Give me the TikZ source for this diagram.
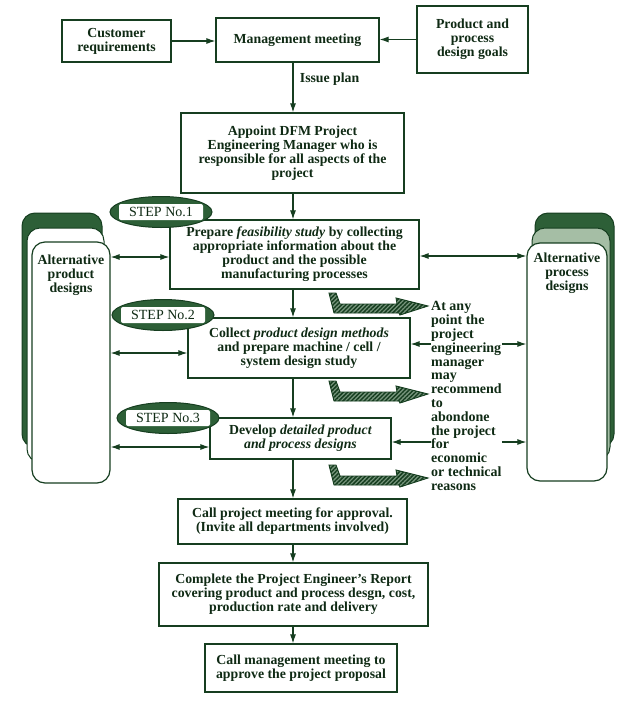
\documentclass[tikz,border=0pt]{standalone}
\usepackage{fontspec}
\setmainfont{Liberation Serif}
\usetikzlibrary{shapes.geometric,patterns,patterns.meta,arrows.meta}
\definecolor{ink}{RGB}{22,62,32}
\definecolor{txt}{RGB}{15,42,20}
\definecolor{dkg}{RGB}{45,95,55}
\definecolor{ltg}{RGB}{165,190,165}
\definecolor{hatchbg}{RGB}{120,150,125}
\begin{document}
\begin{tikzpicture}[x=1pt,y=-1pt,
  every node/.style={text=txt, font=\bfseries\fontsize{13.8}{14}\selectfont},
  box/.style={draw=ink, line width=1.2pt, align=center, inner sep=0pt},
  arr/.style={draw=ink, line width=1.1pt, -{Latex[length=9pt,width=6pt]}},
  darr/.style={draw=ink, line width=1.1pt, {Latex[length=9pt,width=6pt]}-{Latex[length=9pt,width=6pt]}},
  stepoval/.style={ellipse, draw=ink, fill=dkg, line width=1pt, minimum width=102pt, minimum height=31pt, inner sep=0pt},
  steplabel/.style={fill=white, rounded corners=2pt, minimum width=84pt, minimum height=16pt, inner sep=0pt, font=\fontsize{14}{14}\selectfont},
  layer/.style={draw=ink, line width=1pt, rounded corners=13pt},
  hatcharrow/.pic={
    \path[fill=hatchbg, postaction={pattern={Lines[angle=45,distance=3pt,line width=1.5pt]}, pattern color=ink}, draw=ink, line width=0.9pt]
      (0,0) -- (7,0) -- (11,11) -- (68,11) -- (67,5) -- (99,13) -- (71,22) -- (70,20) -- (5,20) -- cycle;
  }
]
\useasboundingbox (0,0) rectangle (635,710);

% side stacks
\draw[layer, fill=dkg] (22,213) rectangle (102,447);
\draw[layer, fill=white] (27,228) rectangle (104,462);
\node[layer, fill=white, line width=1.2pt, minimum width=78pt, minimum height=241pt] (alt1) at (71,362.5) {};
\node[align=center] (alt1t) at (71,275) {Alternative\\product\\designs};

\draw[layer, fill=dkg] (535,213) rectangle (614,447);
\draw[layer, fill=ltg] (532,228) rectangle (610,460);
\node[layer, fill=white, line width=1.2pt, minimum width=80pt, minimum height=238pt] (alt2) at (567,362) {};
\node[align=center] (alt2t) at (567,273) {Alternative\\process\\designs};

% boxes
\node[box, minimum width=109pt, minimum height=42pt] (cust) at (116.5,41) {Customer\\requirements};
\node[box, minimum width=163pt, minimum height=44pt] (mgmt) at (297.5,40) {Management meeting};
\node[box, minimum width=111pt, minimum height=67pt] (goals) at (472.5,39.5) {Product and\\process\\design goals};
\node[box, minimum width=223pt, minimum height=80pt] (appoint) at (292.5,153) {Appoint DFM Project\\Engineering Manager who is\\responsible for all aspects of the\\project};
\node[box, minimum width=249pt, minimum height=69pt] (s1) at (294.5,254.5) {Prepare \textit{feasibility study} by collecting\\appropriate information about the\\product and the possible\\manufacturing processes};
\node[box, minimum width=222pt, minimum height=60pt] (s2) at (299,348) {Collect \textit{product design methods}\\and prepare machine / cell /\\system design study};
\node[box, minimum width=181pt, minimum height=41pt] (s3) at (300.5,438.5) {Develop \textit{detailed product}\\\textit{and process designs}};
\node[box, minimum width=229pt, minimum height=45pt] (callp) at (292.5,521.5) {Call project meeting for approval.\\(Invite all departments involved)};
\node[box, minimum width=269pt, minimum height=63pt] (compl) at (293.5,594.5) {Complete the Project Engineer's Report\\covering product and process desgn, cost,\\production rate and delivery};
\node[box, minimum width=192pt, minimum height=48pt] (callm) at (301,668) {Call management meeting to\\approve the project proposal};

% step ovals
\node[stepoval] (e1) at (161,212) {};
\node[steplabel] (e1t) at (e1) {STEP No.1};
\node[stepoval] (e2) at (163,315) {};
\node[steplabel] (e2t) at (e2) {STEP No.2};
\node[stepoval] (e3) at (168,418) {};
\node[steplabel] (e3t) at (e3) {STEP No.3};

% note
\node[align=left, anchor=west, inner sep=0pt, font=\bfseries\fontsize{14}{13.8}\selectfont] (note) at (431,396)
  {At any\\point the\\project\\engineering\\manager\\may\\recommend\\to\\abondone\\the project\\for\\economic\\or technical\\reasons};

% helper coordinates
\coordinate (spine) at (293,0);
\coordinate (ya) at (0,257);
\coordinate (yb) at (0,353);
\coordinate (yc) at (0,447);
\coordinate (yd) at (0,256);
\coordinate (ye) at (0,344);
\coordinate (yf) at (0,442);

% top arrows
\draw[arr] (cust.east) -- (mgmt.west |- cust.east);
\draw[arr] (goals.west) -- (mgmt.east |- goals.west);
\draw[arr] (mgmt.south -| spine) -- node[right, xshift=3pt, pos=0.34] (issue) {Issue plan} (appoint.north -| spine);

% spine arrows
\draw[arr] (appoint.south -| spine) -- (s1.north -| spine);
\draw[arr] (s1.south -| spine) -- (s2.north -| spine);
\draw[arr] (s2.south -| spine) -- (s3.north -| spine);
\draw[arr] (s3.south -| spine) -- (callp.north -| spine);
\draw[arr] (callp.south -| spine) -- (compl.north -| spine);
\draw[arr] (compl.south -| spine) -- (callm.north -| spine);

% side arrows
\draw[darr] (alt1.east |- ya) -- (s1.west |- ya);
\draw[darr] (alt1.east |- yb) -- (s2.west |- yb);
\draw[darr] (alt1.east |- yc) -- (s3.west |- yc);
\draw[darr] (s1.east |- yd) -- (alt2.west |- yd);
\draw[arr] (note.west |- ye) -- (s2.east |- ye);
\draw[arr] (note.east |- ye) -- (alt2.west |- ye);
\draw[arr] (note.west |- yf) -- (s3.east |- yf);
\draw[arr] (note.east |- yf) -- (alt2.west |- yf);

% hatched arrows
\pic at (329,293) {hatcharrow};
\pic at (329,381) {hatcharrow};
\pic at (329,465) {hatcharrow};
\end{tikzpicture}
\end{document}
